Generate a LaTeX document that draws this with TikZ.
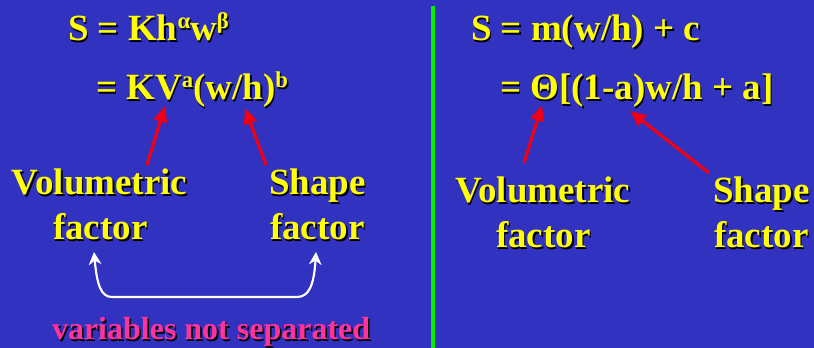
\documentclass[tikz,border=0pt]{standalone}
\usepackage{fontspec}
\setmainfont{Liberation Serif}
\usetikzlibrary{arrows.meta}
\definecolor{bg}{RGB}{50,50,192}
\definecolor{ylw}{RGB}{255,255,0}
\definecolor{pnk}{RGB}{255,51,153}
\definecolor{grn}{RGB}{0,240,0}
\definecolor{redarr}{RGB}{240,0,20}
\newcommand{\shd}[1]{\makebox[0pt][l]{\kern1.2pt\raisebox{-1.2pt}{\color{black}#1}}#1}
\newcommand{\sups}[1]{\raisebox{0.34em}{\fontsize{17}{18}\selectfont #1}}
\begin{document}
\begin{tikzpicture}[x=0.75pt,y=-0.75pt,
  lbl/.style={anchor=base west,inner sep=0pt,outer sep=0pt,text=ylw,font=\fontsize{27.75}{30}\selectfont\bfseries},
  small/.style={anchor=base west,inner sep=0pt,outer sep=0pt,text=pnk,font=\fontsize{24}{26}\selectfont\bfseries},
  redarrow/.style={draw=redarr,line width=2.4pt,-{Triangle[length=12pt,width=10pt]}},
  whitearrow/.style={draw=white,line width=1.6pt,{Stealth[length=9.5pt,width=9.5pt,inset=3pt]}-{Stealth[length=9.5pt,width=9.5pt,inset=3pt]}}]
\fill[bg] (0,0) rectangle (814,348);
\useasboundingbox (0,0) rectangle (814,348);
\draw[grn,line width=2.3pt] (433,6) coordinate (gtop) -- (433,348) coordinate (gbot);
% left side
\node[lbl] (l1) at (68,41) {\shd{S = Kh\sups{α}w\sups{β}}};
\node[lbl] (l2) at (96,100) {\shd{= KV\sups{a}(w/h)\sups{b}}};
\node[lbl] (lv) at (12,195) {\shd{Volumetric}};
\node[lbl] (lvf) at (53,240) {\shd{factor}};
\node[lbl] (ls) at (269,195) {\shd{Shape}};
\node[lbl] (lsf) at (270,240) {\shd{factor}};
\node[small] (vns) at (52,340) {\shd{variables not separated}};
\coordinate (a1t) at (147,165); \coordinate (a1h) at (165,106);
\coordinate (a2t) at (266,165); \coordinate (a2h) at (245,108);
\draw[redarrow] (a1t) -- (a1h);
\draw[redarrow] (a2t) -- (a2h);
\coordinate (wl) at (94,252); \coordinate (wr) at (316,252);
\draw[whitearrow] (wl) .. controls (97,285) and (101,297) .. (112,297) -- (297,297) .. controls (309,297) and (314,285) .. (wr);
% right side
\node[lbl] (r1) at (471,41) {\shd{S = m(w/h) + c}};
\node[lbl] (r2) at (500,100) {\shd{= Θ[(1-a)w/h + a]}};
\node[lbl] (rv) at (455,203) {\shd{Volumetric}};
\node[lbl] (rvf) at (496,248) {\shd{factor}};
\node[lbl] (rs) at (713,203) {\shd{Shape}};
\node[lbl] (rsf) at (714,248) {\shd{factor}};
\coordinate (a3t) at (524,163); \coordinate (a3h) at (542,105);
\coordinate (a4t) at (709,173); \coordinate (a4h) at (630,111);
\draw[redarrow] (a3t) -- (a3h);
\draw[redarrow] (a4t) -- (a4h);
\end{tikzpicture}
\end{document}
